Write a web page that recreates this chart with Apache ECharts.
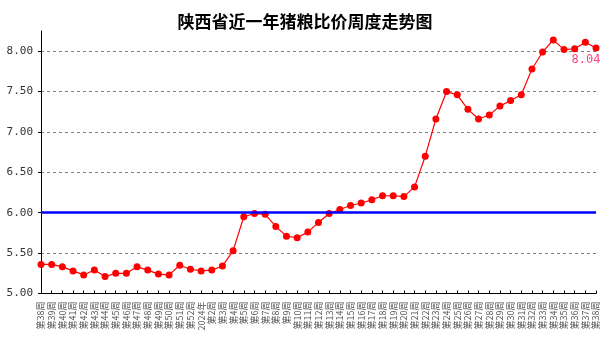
<!DOCTYPE html>
<html>
<head>
<meta charset="utf-8">
<script src="https://cdn.jsdelivr.net/npm/echarts@6/dist/echarts.min.js"></script>
<style>
  html, body { margin: 0; padding: 0; background: #fff; }
  #chart { width: 610px; height: 343px; }
</style>
</head>
<body>
<div id="chart"></div>
<script>
// 周次（2023年第38周 — 2024年第38周）
const weeks = [
  '第38周','第39周','第40周','第41周','第42周','第43周','第44周','第45周',
  '第46周','第47周','第48周','第49周','第50周','第51周','第52周','2024年',
  '第2周','第3周','第4周','第5周','第6周','第7周','第8周','第9周','第10周',
  '第11周','第12周','第13周','第14周','第15周','第16周','第17周','第18周',
  '第19周','第20周','第21周','第22周','第23周','第24周','第25周','第26周',
  '第27周','第28周','第29周','第30周','第31周','第32周','第33周','第34周',
  '第35周','第36周','第37周','第38周'
];

// 猪粮比价
const ratio = [
  5.36, 5.36, 5.33, 5.28, 5.23, 5.29, 5.21, 5.25,
  5.25, 5.33, 5.29, 5.24, 5.23, 5.35, 5.30, 5.28,
  5.29, 5.34, 5.53, 5.95, 5.99, 5.98, 5.83, 5.71, 5.69,
  5.76, 5.88, 5.99, 6.04, 6.09, 6.12, 6.16, 6.21,
  6.21, 6.20, 6.32, 6.70, 7.16, 7.50, 7.46, 7.28,
  7.16, 7.21, 7.32, 7.39, 7.46, 7.78, 7.99, 8.14,
  8.02, 8.03, 8.11, 8.04
];

// 盈亏平衡参考线
const breakEven = 6.00;

// 纵轴范围与刻度
const yMin = 5.00, yMax = 8.25, yStep = 0.50;
const yTicks = [5.00, 5.50, 6.00, 6.50, 7.00, 7.50, 8.00];

const chart = echarts.init(document.getElementById('chart'), null, { renderer: 'canvas' });

const lastIdx = ratio.length - 1;
const seriesData = ratio.map((v, i) => i === lastIdx ? {
  value: v,
  label: {
    show: true,
    position: 'bottom',
    distance: 5,
    offset: [-10, -3],
    color: '#ff4488',
    fontFamily: 'DejaVu Sans Mono',
    fontSize: 12,
    formatter: p => p.value.toFixed(2)
  }
} : v);

chart.setOption({
  animation: false,
  backgroundColor: '#ffffff',
  title: {
    text: '陕西省近一年猪粮比价周度走势图',
    left: 'center',
    top: 8,
    textStyle: {
      fontFamily: 'Noto Sans CJK SC',
      fontWeight: 'bold',
      fontSize: 17,
      color: '#000'
    }
  },
  grid: { left: 41, right: 14, top: 31, bottom: 49.5, containLabel: false },
  xAxis: {
    type: 'category',
    data: weeks,
    boundaryGap: false,
    axisLine: { lineStyle: { color: '#000', width: 1 } },
    axisTick: { show: true, inside: true, length: 3, alignWithLabel: true, interval: 0, lineStyle: { color: '#000' } },
    axisLabel: {
      interval: 0,
      rotate: 90,
      margin: 8,
      fontSize: 9,
      color: '#555',
      fontFamily: 'Noto Sans CJK SC'
    },
    splitLine: { show: false }
  },
  yAxis: {
    type: 'value',
    min: yMin,
    max: yMax,
    interval: yStep,
    axisLine: { show: true, lineStyle: { color: '#000', width: 1 } },
    axisTick: { show: true, length: 3, customValues: yTicks, lineStyle: { color: '#000' } },
    axisLabel: {
      margin: 8,
      fontSize: 11,
      color: '#333',
      fontFamily: 'DejaVu Sans Mono',
      customValues: yTicks,
      formatter: v => v.toFixed(2)
    },
    splitLine: { show: true, lineStyle: { color: '#808080', type: [3, 3], width: 1 } }
  },
  series: [{
    type: 'line',
    data: seriesData,
    symbol: 'circle',
    symbolSize: 7,
    lineStyle: { color: '#ff0000', width: 1.2 },
    itemStyle: { color: '#ff0000' },
    markLine: {
      silent: true,
      symbol: 'none',
      label: { show: false },
      lineStyle: { color: '#0000ff', width: 2.5, type: 'solid' },
      data: [{ yAxis: breakEven }]
    },
    z: 3
  }]
});
</script>
</body>
</html>
